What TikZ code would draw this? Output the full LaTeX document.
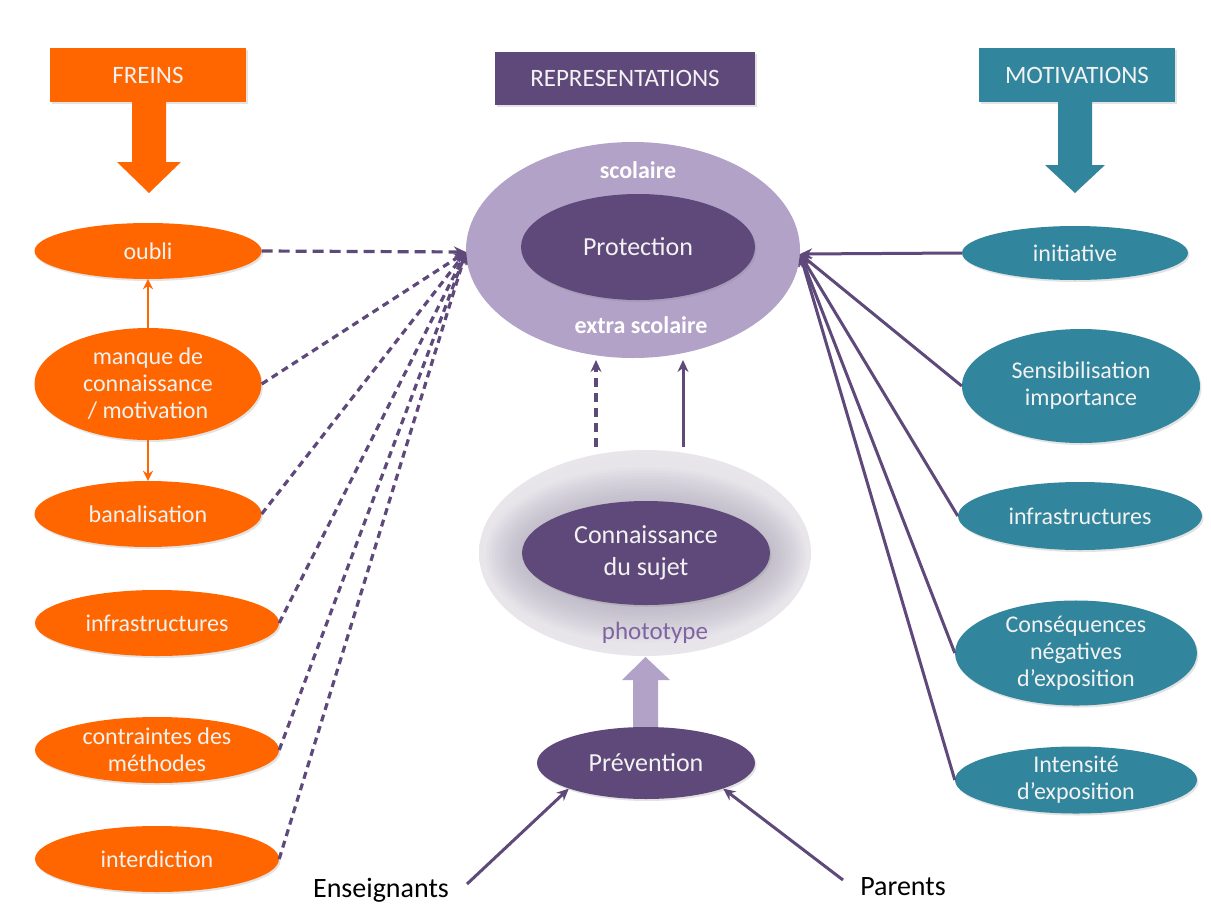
\documentclass[tikz,border=0pt]{standalone}
\usepackage{fontspec}
\setmainfont{Carlito}
\usetikzlibrary{shapes.geometric,arrows.meta,shadows}
\definecolor{frein}{HTML}{FF6600}
\definecolor{rep}{HTML}{5F497A}
\definecolor{repl}{HTML}{B2A2C7}
\definecolor{motiv}{HTML}{31859C}
\definecolor{txtw}{HTML}{F2F2F2}
\definecolor{photo}{HTML}{8064A2}
\definecolor{halo}{HTML}{A49CB0}
\pgfdeclareradialshading{glowshade}{\pgfpoint{0bp}{0bp}}{rgb(0bp)=(0.90,0.89,0.91); rgb(25bp)=(0.91,0.90,0.92); rgb(40bp)=(0.93,0.93,0.94); rgb(46bp)=(0.96,0.96,0.97); rgb(50bp)=(1,1,1)}
\begin{document}
\begin{tikzpicture}[x=1pt,y=-1pt,
  shd/.style={drop shadow={shadow xshift=1.5pt,shadow yshift=-2pt,opacity=0.22}},
  ell/.style={ellipse, inner sep=0pt, text=txtw, align=center, shd},
  fr/.style={ell, fill=frein, font=\fontsize{24}{27}\selectfont},
  mo/.style={ell, fill=motiv, font=\fontsize{24}{27}\selectfont},
  rp/.style={ell, fill=rep, font=\fontsize{26}{32}\selectfont},
  hdr/.style={rectangle, inner sep=0pt, text=txtw, font=\fontsize{25}{28}\selectfont, shd},
  dsh/.style={draw=rep, line width=3.2pt, dash pattern=on 7pt off 5pt, -{Stealth[length=12pt,width=11pt]}},
  sol/.style={draw=rep, line width=3pt, -{Stealth[length=12pt,width=11pt]}},
  orarr/.style={draw=frein, line width=2.8pt, -{Stealth[length=10pt,width=10pt]}}
]
\fill[white] (0,0) rectangle (1211,911);
\useasboundingbox (0,0) rectangle (1211,911);

% header boxes
\node[hdr, fill=frein, minimum width=196, minimum height=54] (freins) at (148,75) {FREINS};
\node[hdr, fill=rep, minimum width=260, minimum height=53] (repr) at (625,78.5) {REPRESENTATIONS};
\node[hdr, fill=motiv, minimum width=196, minimum height=54] (motiv) at (1077,75) {MOTIVATIONS};

% block arrows
\fill[frein] (132,102) -- (166,102) -- (166,162) -- (181,162) -- (149,193) -- (117,162) -- (132,162) -- cycle;
\fill[motiv] (1058,102) -- (1092,102) -- (1092,165) -- (1105,165) -- (1075,193) -- (1045,165) -- (1058,165) -- cycle;

% left column
\node[fr, minimum width=227, minimum height=56] (oubli) at (148,251) {oubli};
\node[fr, minimum width=227, minimum height=112] (manque) at (148,384) {manque de\\connaissance\\/ motivation};
\node[fr, minimum width=227, minimum height=66] (banal) at (148,514) {banalisation};
\node[fr, minimum width=244, minimum height=66] (infraL) at (157,623) {infrastructures};
\node[fr, minimum width=244, minimum height=66] (contr) at (157,750) {contraintes des\\méthodes};
\node[fr, minimum width=244, minimum height=66] (inter) at (157,859) {interdiction};

\draw[orarr] (manque.north) -- (oubli.south);
\draw[orarr] (manque.south) -- (banal.north);

% centre
\node[ellipse, fill=repl, minimum width=334, minimum height=216, inner sep=0pt] (outer) at (633,250) {};
\node[rp, minimum width=234, minimum height=106] (prot) at (638,247) {Protection};
\node[text=white, font=\bfseries\fontsize{24}{28}\selectfont] (scol) at (638,170) {scolaire};
\node[text=white, font=\bfseries\fontsize{24}{28}\selectfont] (extra) at (641,325) {extra scolaire};

\node[ellipse, shading=glowshade, minimum width=332, minimum height=206, inner sep=0pt] (glow) at (645,553) {};
\foreach \k in {1,...,12} {
  \fill[halo, opacity=0.05] (646,555) ellipse [x radius={124+3*\k}, y radius={52+3*\k}];
}
\node[rp, minimum width=248, minimum height=104] (conn) at (646,553) {Connaissance\\du sujet};
\node[text=photo, font=\fontsize{25}{28}\selectfont] (photo) at (655,633) {phototype};
\fill[repl] (633,732) -- (658,732) -- (658,680) -- (670,680) -- (645.5,657) -- (622,680) -- (633,680) -- cycle;
\node[rp, minimum width=218, minimum height=72] (prev) at (646,763) {Prévention};
\node[font=\fontsize{28}{32}\selectfont] (ens) at (381,890) {Enseignants};
\node[font=\fontsize{28}{32}\selectfont] (par) at (903,887) {Parents};

% right column
\node[mo, minimum width=226, minimum height=54] (initi) at (1075,253) {initiative};
\node[mo, minimum width=238, minimum height=114] (sensi) at (1081,386) {Sensibilisation\\importance};
\node[mo, minimum width=244, minimum height=68] (infraR) at (1080,516) {infrastructures};
\node[mo, minimum width=242, minimum height=98] (conseq) at (1076,653) {Conséquences\\négatives\\d’exposition};
\node[mo, minimum width=242, minimum height=66] (intens) at (1076,780) {Intensité\\d’exposition};

% connectors
\coordinate (lconv) at (466,252);
\coordinate (rconv) at (800,254);
\draw[dsh, dash pattern=on 11pt off 6pt] (oubli.east) -- (lconv);
\draw[dsh] (manque.east) -- (lconv);
\draw[dsh] (banal.east) -- (lconv);
\draw[dsh] (infraL.east) -- (lconv);
\draw[dsh] (contr.east) -- (lconv);
\draw[dsh] (inter.east) -- (lconv);

\draw[sol] (initi.west) -- (rconv);
\draw[sol] (sensi.west) -- (rconv);
\draw[sol] (infraR.west) -- (rconv);
\draw[sol] (conseq.west) -- (rconv);
\draw[sol] (intens.west) -- (rconv);

\coordinate (dA) at (596,447);
\coordinate (dB) at (596,360);
\coordinate (sA) at (683,447);
\coordinate (sB) at (683,360);
\draw[dsh, dash pattern=on 9pt off 6pt] (dA) -- (dB);
\draw[sol] (sA) -- (sB);

\coordinate (enst) at (467,884);
\coordinate (part) at (843,880);
\draw[sol] (enst) -- (prev.south west);
\draw[sol] (part) -- (prev.south east);
\end{tikzpicture}
\end{document}
